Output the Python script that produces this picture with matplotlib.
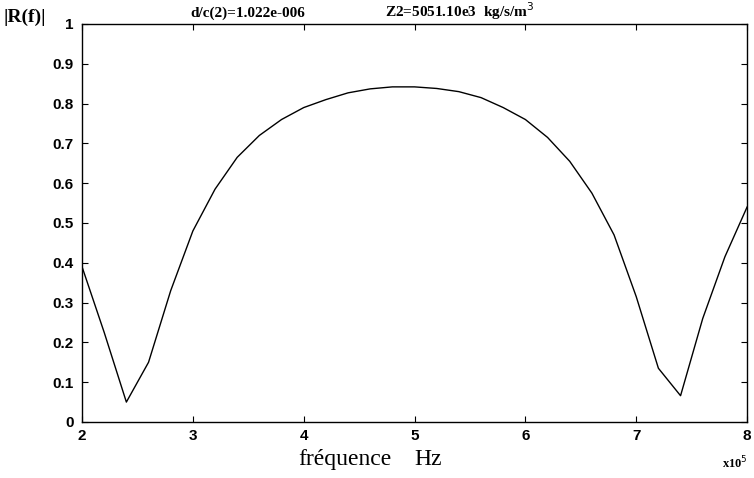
import numpy as np
import matplotlib.pyplot as plt

# |R(f)| versus frequency (x 1e5 Hz)
freq = [2.0, 2.2, 2.4, 2.6, 2.8, 3.0, 3.2, 3.4, 3.6, 3.8, 4.0, 4.2, 4.4, 4.6,
        4.8, 5.0, 5.2, 5.4, 5.6, 5.8, 6.0, 6.2, 6.4, 6.6, 6.8, 7.0, 7.2, 7.4,
        7.6, 7.8, 8.0]
refl = [0.39, 0.225, 0.05, 0.15, 0.33, 0.48, 0.585, 0.665, 0.72, 0.76, 0.79,
        0.81, 0.827, 0.837, 0.842, 0.842, 0.838, 0.83, 0.815, 0.79, 0.76,
        0.715, 0.655, 0.575, 0.47, 0.315, 0.135, 0.066, 0.26, 0.415, 0.54]

xticks = [2, 3, 4, 5, 6, 7, 8]
yticks = [0, 0.1, 0.2, 0.3, 0.4, 0.5, 0.6, 0.7, 0.8, 0.9, 1]
ylabels = ['0', '0.1', '0.2', '0.3', '0.4', '0.5', '0.6', '0.7', '0.8', '0.9', '1']

fig = plt.figure(figsize=(7.54, 4.78), dpi=100)
ax = fig.add_axes([0.1088, 0.1172, 0.882, 0.8326])

ax.plot(freq, refl, color='black', linewidth=1.0)

ax.set_xlim(2, 8)
ax.set_ylim(0, 1)
ax.set_xticks(xticks)
ax.set_yticks(yticks)
ax.set_yticklabels(ylabels)
ax.tick_params(direction='in', top=True, right=True, length=4, width=0.8,
               labelsize=11)
ax.tick_params(axis='x', pad=5)
ax.tick_params(axis='y', pad=6)
for lab in ax.get_xticklabels() + ax.get_yticklabels():
    lab.set_fontfamily('Liberation Sans')
    lab.set_fontweight('bold')
for s in ax.spines.values():
    s.set_linewidth(1.0)

fig.text(0.395, 0.027, 'fréquence', family='Liberation Serif', fontsize=17,
         va='baseline')
fig.text(0.550, 0.027, 'Hz', family='Liberation Serif', fontsize=17,
         va='baseline')
fig.text(0.005, 0.955, '|R(f)|', family='Liberation Serif', fontsize=14,
         fontweight='bold')
fig.text(0.957, 0.02, 'x10$^5$', family='Liberation Serif', fontsize=9,
         fontweight='bold')
fig.text(0.252, 0.965, 'd/c(2)=1.022e-006', family='Liberation Serif',
         fontsize=11, fontweight='bold')
fig.text(0.51, 0.965, 'Z2=5051.10e3  kg/s/m$^3$', family='Liberation Serif',
         fontsize=11, fontweight='bold')

plt.savefig('out.png', dpi=100)
